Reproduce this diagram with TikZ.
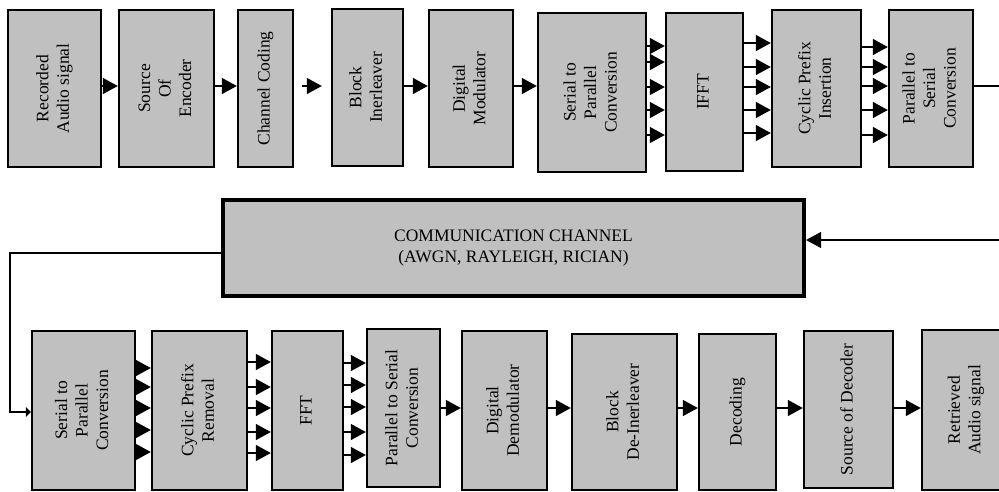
\documentclass[tikz,border=0pt]{standalone}
\usepackage{fontspec}
\setmainfont{Liberation Serif}
\usetikzlibrary{arrows.meta}
\definecolor{boxgray}{RGB}{192,192,192}
\tikzset{
  blk/.style={draw=black,fill=boxgray,line width=2.4pt,inner sep=0pt,
    font=\fontsize{17.5}{20.5}\selectfont},
  chan/.style={blk,line width=4.2pt},
  arr/.style={line width=1.4pt,-{Triangle[length=15pt,width=16pt]}},
  lin/.style={line width=1.4pt}
}
% rotated text for the blocks
\newcommand{\vtxt}[1]{\rotatebox{90}{\begin{tabular}{@{}c@{}}#1\end{tabular}}}
\begin{document}
\begin{tikzpicture}[x=1pt,y=-1pt]
\useasboundingbox (0,0) rectangle (999,491);
% transmitter
\node[blk,minimum width=93,minimum height=157] (rec) at (54.5,88.5) {\vtxt{Recorded\\Audio signal}};
\node[blk,minimum width=95,minimum height=157] (senc) at (166.5,88.5) {\vtxt{Source\\Of\\Encoder}};
\node[blk,minimum width=55,minimum height=157] (ccod) at (265.5,88.5) {\vtxt{Channel Coding}};
\node[blk,minimum width=71,minimum height=157] (bint) at (367.5,87.5) {\vtxt{Block\\Inerleaver}};
\node[blk,minimum width=84,minimum height=157] (dmod) at (471,88.5) {\vtxt{Digital\\Modulator}};
\node[blk,minimum width=108,minimum height=159] (sp1) at (592,92.5) {\vtxt{Serial to\\Parallel\\Conversion}};
\node[blk,minimum width=77,minimum height=158] (ifft) at (704.5,92) {\vtxt{IFFT}};
\node[blk,minimum width=89,minimum height=157] (cpi) at (816.5,88.5) {\vtxt{Cyclic Prefix\\Insertion}};
\node[blk,minimum width=84,minimum height=157] (ps1) at (931,88.5) {\vtxt{Parallel to\\Serial\\Conversion}};
% channel
\node[chan,minimum width=581,minimum height=96,align=center] (chn) at (513.5,248)
  {COMMUNICATION CHANNEL\\(AWGN, RAYLEIGH, RICIAN)};
% receiver
\node[blk,minimum width=103,minimum height=159] (sp2) at (83.5,410.5) {\vtxt{Serial to\\Parallel\\Conversion}};
\node[blk,minimum width=95,minimum height=159] (cpr) at (199.5,410.5) {\vtxt{Cyclic Prefix\\Removal}};
\node[blk,minimum width=71,minimum height=159] (fft) at (307.5,410.5) {\vtxt{FFT}};
\node[blk,minimum width=73,minimum height=158] (ps2) at (403.5,408) {\vtxt{Parallel to Serial\\Conversion}};
\node[blk,minimum width=85,minimum height=159] (ddem) at (504.5,410.5) {\vtxt{Digital\\Demodulator}};
\node[blk,minimum width=105,minimum height=156] (bdi) at (624.5,412) {\vtxt{Block\\De-Inerleaver}};
\node[blk,minimum width=77,minimum height=156] (dec) at (737.5,412) {\vtxt{Decoding}};
\node[blk,minimum width=89,minimum height=157] (sdec) at (848.5,409.5) {\vtxt{Source of Decoder}};
\node[blk,minimum width=88,minimum height=160] (ret) at (966,410) {\vtxt{Retrieved\\Audio signal}\hspace{26pt}};
% single arrows
\draw[arr] (rec.east |- 0,86) -- (senc.west |- 0,86);
\draw[arr] (senc.east |- 0,86) -- (ccod.west |- 0,86);
\draw[arr,shorten <=8pt,shorten >=9pt] (ccod.east |- 0,86) -- (bint.west |- 0,86);
\draw[arr] (bint.east |- 0,86) -- (dmod.west |- 0,86);
\draw[arr] (dmod.east |- 0,86) -- (sp1.west |- 0,86);
% parallel arrows
\foreach \y in {46,62,87,110,135} \draw[arr] (sp1.east |- 0,\y) -- (ifft.west |- 0,\y);
\foreach \y in {43,67,87,110,133} \draw[arr] (ifft.east |- 0,\y) -- (cpi.west |- 0,\y);
\foreach \y in {47,67,86,110,135} \draw[arr] (cpi.east |- 0,\y) -- (ps1.west |- 0,\y);
% to and from the channel
\coordinate (out) at (999,86);
\coordinate (inc) at (999,240);
\draw[lin] (ps1.east |- out) -- (out);
\draw[arr] (inc) -- (chn.east |- inc);
\draw[lin,-{Triangle[length=5pt,width=10pt]}] (chn.west |- 0,253) -| (10,412) -- (sp2.west |- 0,412);
\foreach \y in {368,387,408,430,452} \draw[arr] (sp2.east |- 0,\y) -- (cpr.west |- 0,\y);
\foreach \y in {362,387,408,432,453} \draw[arr] (cpr.east |- 0,\y) -- (fft.west |- 0,\y);
\foreach \y in {363,385,407,432,455} \draw[arr] (fft.east |- 0,\y) -- (ps2.west |- 0,\y);
\draw[arr] (ps2.east |- 0,408) -- (ddem.west |- 0,408);
\draw[arr] (ddem.east |- 0,408) -- (bdi.west |- 0,408);
\draw[arr] (bdi.east |- 0,408) -- (dec.west |- 0,408);
\draw[arr] (dec.east |- 0,408) -- (sdec.west |- 0,408);
\draw[arr] (sdec.east |- 0,408) -- (ret.west |- 0,408);
\end{tikzpicture}
\end{document}
